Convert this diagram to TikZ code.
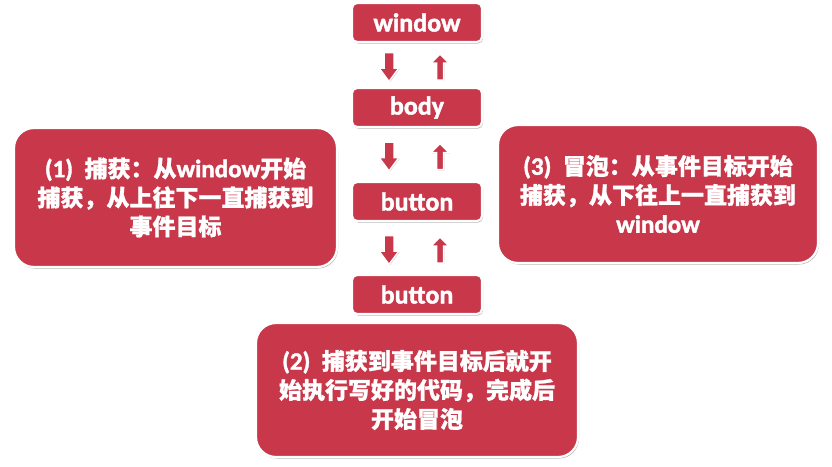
\documentclass[tikz,border=0pt]{standalone}
\usepackage{fontspec}
\setmainfont{Carlito}[BoldFeatures={FakeBold=1.6}]
\newfontfamily\cjk{Noto Sans CJK SC}[BoldFeatures={FakeBold=1.0}]
\usetikzlibrary{shadows,calc}
\definecolor{boxred}{RGB}{200,56,74}
\tikzset{
  redbox/.style={fill=boxred, draw=white, line width=2.2pt, text=white,
    drop shadow={shadow xshift=1pt, shadow yshift=-1.5pt, opacity=0.3, fill=black}},
  smallbox/.style={redbox, rounded corners=5pt, minimum width=130pt, minimum height=39pt,
    inner sep=0pt, font=\bfseries\fontsize{26}{26}\selectfont},
  bigbox/.style={redbox, rounded corners=20pt, align=center, inner sep=0pt,
    font=\bfseries\fontsize{23}{29}\selectfont},
  arrowshape/.style={fill=boxred, draw=white, line width=1.5pt, line join=miter,
    drop shadow={shadow xshift=0.8pt, shadow yshift=-0.8pt, opacity=0.25, fill=black}},
  pics/downarr/.style={code={
    \filldraw[arrowshape] (-5,-14.5) -- (5,-14.5) -- (5,1) -- (10,1) -- (0,14.5)
      -- (-10,1) -- (-5,1) -- cycle;}},
  pics/uparr/.style={code={
    \filldraw[arrowshape] (-3.5,13) -- (3.5,13) -- (3.5,-4) -- (9,-4) -- (0,-13)
      -- (-9,-4) -- (-3.5,-4) -- cycle;}}
}
\newcommand{\zh}[1]{{\cjk\bfseries #1}}
\newcommand{\lat}[1]{{\fontsize{25}{29}\selectfont #1}}
\begin{document}
\begin{tikzpicture}[x=1pt,y=-1pt]
\useasboundingbox (0,0) rectangle (832,466);
\node[smallbox] (window) at (417,22.5) {window};
\node[smallbox] (body) at (417,107.5) {body};
\node[smallbox] (btnA) at (417,201.5) {button};
\node[smallbox] (btnB) at (417,294.5) {button};

\node[bigbox, minimum width=323pt, minimum height=139pt] (capture) at (175.5,197.5)
  {\lat{(1)}\hspace{0.5em}\zh{捕获：从}\lat{window}\zh{开始}\\ \zh{捕获，从上往下一直捕获到}\\ \zh{事件目标}};
\node[bigbox, minimum width=320pt, minimum height=138pt] (bubble) at (658,194)
  {\lat{(3)}\hspace{0.5em}\zh{冒泡：从事件目标开始}\\ \zh{捕获，从下往上一直捕获到}\\ \lat{window}};
\node[bigbox, minimum width=322pt, minimum height=134pt] (target) at (417,390)
  {\lat{(2)}\hspace{0.5em}\zh{捕获到事件目标后就开}\\ \zh{始执行写好的代码，完成后}\\ \zh{开始冒泡}};

\coordinate (m1) at ($(window.south)!0.5!(body.north)$);
\coordinate (m2) at ($(body.south)!0.5!(btnA.north)$);
\coordinate (m3) at ($(btnA.south)!0.5!(btnB.north)$);
\foreach \m in {m1,m2,m3}{
  \pic at ($(\m)+(-28,2)$) {downarr};
  \pic at ($(\m)+(23,2)$) {uparr};
}
\end{tikzpicture}
\end{document}
